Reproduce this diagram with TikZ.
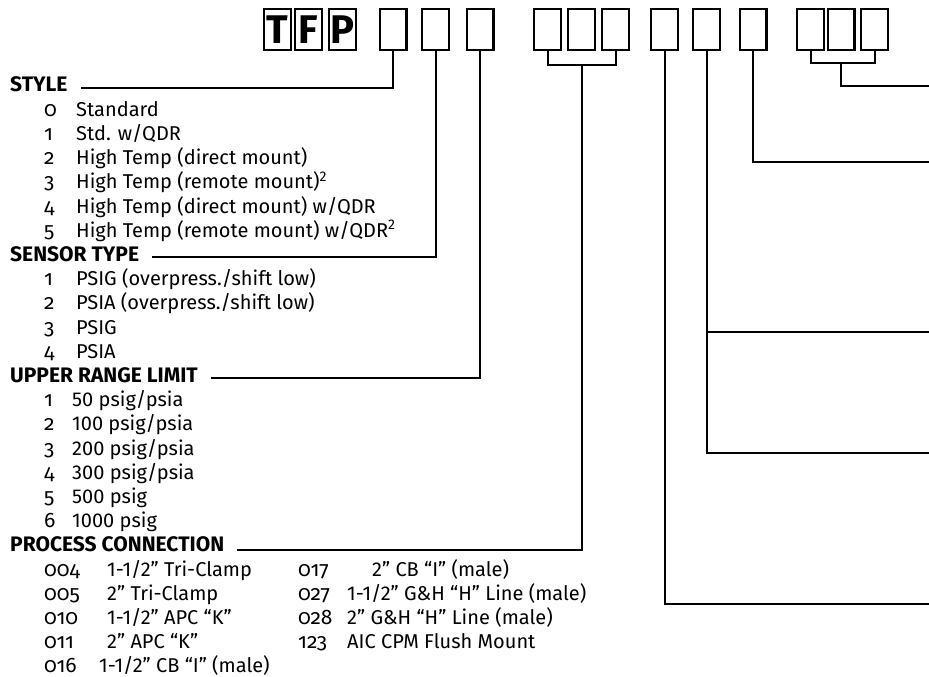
\documentclass[tikz,border=0pt]{standalone}
\usepackage{fontspec}
\setmainfont{Fira Sans}
\newfontfamily\oldnum[Numbers=OldStyle]{Fira Sans}
\usetikzlibrary{positioning}
\tikzset{
  digitbox/.style={rectangle, draw=black, line width=2.4pt,
                   minimum width=26.6pt, minimum height=40.6pt, inner sep=0pt},
  letterbox/.style={digitbox, font=\fontsize{40}{40}\selectfont\bfseries},
  lead/.style={draw=black, line width=2pt},
  head/.style={anchor=base west, inner sep=0pt, font=\fontsize{21}{21}\selectfont\bfseries},
  code/.style={anchor=base west, inner sep=0pt, font=\fontsize{21}{21}\selectfont\oldnum},
  desc/.style={anchor=base west, inner sep=0pt, font=\fontsize{20}{20}\selectfont},
}
\begin{document}
\begin{tikzpicture}[x=1pt, y=-1pt]
  \useasboundingbox (0,0) rectangle (929,677);

  % model prefix and the digit boxes along the top
  \node[letterbox] (lt) at (277.5,29.5) {T};
  \node[letterbox] (lf) at (308.5,29.5) {F};
  \node[letterbox] (lp) at (342.5,29.5) {P};
  \foreach \n/\x in {bstyle/393, bsensor/435.5, brange/480,
                     bconn1/547.5, bconn2/581.5, bconn3/615.5,
                     bopt1/664.5, bopt2/706.5, bopt3/753,
                     bopt4a/810.5, bopt4b/841, bopt4c/874.5}
    {\node[digitbox] (\n) at (\x,29.5) {};}

  % section headings
  \node[head] (hstyle)  at (10,92)    {STYLE};
  \node[head] (hsensor) at (10,261.4) {SENSOR TYPE};
  \node[head] (hrange)  at (10,382.4) {UPPER RANGE LIMIT};
  \node[head] (hconn)   at (10,551.8) {PROCESS CONNECTION};

  % option lists
  \foreach \c/\t [count=\k] in {0/Standard, 1/{Std. w/QDR},
      2/{High Temp (direct mount)}, 3/{High Temp (remote mount)\textsuperscript{2}},
      4/{High Temp (direct mount) w/QDR}, 5/{High Temp (remote mount) w/QDR\textsuperscript{2}}}
    {\node[code] at (44,92+24.2*\k) {\c}; \node[desc] at (76,92+24.2*\k) {\t};}
  \foreach \c/\t [count=\k] in {1/{PSIG (overpress./shift low)},
      2/{PSIA (overpress./shift low)}, 3/PSIG, 4/PSIA}
    {\node[code] at (44,261.4+24.2*\k) {\c}; \node[desc] at (76,261.4+24.2*\k) {\t};}
  \foreach \c/\t [count=\k] in {1/{50 psig/psia}, 2/{100 psig/psia}, 3/{200 psig/psia},
      4/{300 psig/psia}, 5/{500 psig}, 6/{1000 psig}}
    {\node[code] at (44,382.4+24.2*\k) {\c}; \node[desc] at (72,382.4+24.2*\k) {\t};}
  \foreach \c/\x/\t [count=\k] in {004/107/{1-1/2” Tri-Clamp}, 005/107/{2” Tri-Clamp},
      010/107/{1-1/2” APC “K”}, 011/107/{2” APC “K”}, 016/99/{1-1/2” CB “I” (male)}}
    {\node[code] at (44,551.8+24.2*\k) {\c}; \node[desc] at (\x,551.8+24.2*\k) {\t};}
  \foreach \c/\x/\t [count=\k] in {017/372/{2” CB “I” (male)},
      027/347/{1-1/2” G\&H “H” Line (male)}, 028/347/{2” G\&H “H” Line (male)},
      123/347/{AIC CPM Flush Mount}}
    {\node[code] at (298,551.8+24.2*\k) {\c}; \node[desc] at (\x,551.8+24.2*\k) {\t};}

  % leaders to the headings on the left
  \draw[lead] (bstyle.south)  |- ([xshift=13pt,yshift=4.5pt]hstyle.base east);
  \draw[lead] (bsensor.south) |- ([xshift=13pt,yshift=4.5pt]hsensor.base east);
  \draw[lead] (brange.south)  |- ([xshift=13pt,yshift=4.5pt]hrange.base east);
  \draw[lead] (bconn1.south) -- ++(0,14) -| (bconn3.south);
  \draw[lead] ([yshift=-14pt]bconn2.south) |- ([xshift=13pt,yshift=2pt]hconn.base east);

  % leaders running off to the right
  \coordinate (out1) at (929,86);
  \coordinate (out2) at (929,162);
  \coordinate (out3) at (929,332);
  \coordinate (out4) at (929,453);
  \coordinate (out5) at (929,604);
  \draw[lead] (bopt4a.south) -- ++(0,12) -| (bopt4c.south);
  \draw[lead] ([yshift=-12pt]bopt4b.south) |- (out1);
  \draw[lead] (bopt3.south) |- (out2);
  \draw[lead] (bopt2.south) |- (out4);
  \draw[lead] (bopt2.south |- out3) -- (out3);
  \draw[lead] (bopt1.south) |- (out5);
\end{tikzpicture}
\end{document}
